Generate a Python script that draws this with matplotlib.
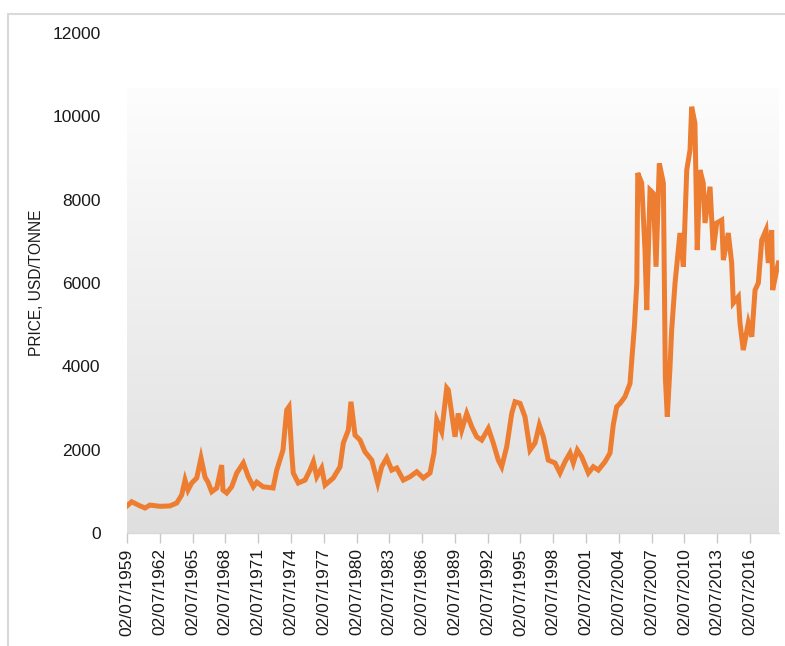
import numpy as np
import matplotlib.pyplot as plt
from matplotlib.colors import LinearSegmentedColormap
from matplotlib.patches import Rectangle

# copper price (decimal year, USD/tonne)
years = [1959.50, 1959.93, 1960.69, 1961.15, 1961.60, 1962.52, 1963.43, 1964.05, 1964.50, 1964.81,
         1965.08, 1965.42, 1965.88, 1966.27, 1966.64, 1966.91, 1967.25, 1967.71, 1968.16, 1968.28,
         1968.62, 1969.08, 1969.54, 1970.14, 1970.60, 1971.06, 1971.37, 1971.94, 1972.86, 1973.20,
         1973.77, 1974.11, 1974.32, 1974.57, 1974.71, 1975.17, 1975.79, 1976.24, 1976.55, 1976.86,
         1977.31, 1977.62, 1978.37, 1978.99, 1979.29, 1979.75, 1979.99, 1980.36, 1980.82, 1981.27,
         1981.89, 1982.44, 1982.80, 1983.26, 1983.72, 1984.18, 1984.78, 1985.39, 1986.01, 1986.61,
         1987.22, 1987.59, 1987.84, 1988.29, 1988.75, 1988.90, 1989.21, 1989.51, 1989.81, 1990.12,
         1990.58, 1991.04, 1991.49, 1991.95, 1992.56, 1993.01, 1993.47, 1993.78, 1994.24, 1994.70,
         1995.00, 1995.46, 1995.91, 1996.37, 1996.83, 1997.22, 1997.59, 1998.04, 1998.66, 1999.11,
         1999.57, 2000.03, 2000.33, 2000.70, 2001.10, 2001.71, 2002.16, 2002.62, 2003.23, 2003.69,
         2003.99, 2004.30, 2004.61, 2005.06, 2005.52, 2005.68, 2005.92, 2006.14, 2006.23, 2006.59,
         2006.89, 2007.05, 2007.35, 2007.65, 2007.90, 2008.20, 2008.57, 2008.75, 2008.93, 2009.18,
         2009.33, 2009.64, 2010.09, 2010.40, 2010.71, 2011.01, 2011.16, 2011.46, 2011.67, 2011.92,
         2012.22, 2012.38, 2012.84, 2013.14, 2013.45, 2013.91, 2014.06, 2014.51, 2014.82, 2014.97,
         2015.43, 2015.58, 2015.88, 2016.34, 2016.66, 2016.96, 2017.26, 2017.57, 2017.96, 2018.17,
         2018.48, 2018.57, 2018.94, 2019.09]
prices = [650, 750, 650, 600, 670, 640, 650, 720, 910, 1270,
          1030, 1200, 1320, 1800, 1340, 1220, 990, 1080, 1630, 1030,
          960, 1110, 1440, 1680, 1350, 1110, 1220, 1110, 1080, 1510,
          1990, 2950, 3030, 1920, 1440, 1200, 1270, 1510, 1710, 1350,
          1560, 1150, 1320, 1590, 2160, 2470, 3150, 2350, 2230, 1950,
          1750, 1200, 1590, 1800, 1510, 1560, 1270, 1350, 1470, 1320,
          1440, 1920, 2710, 2430, 3480, 3430, 2870, 2310, 2870, 2470,
          2870, 2550, 2310, 2230, 2510, 2160, 1750, 1590, 2070, 2870,
          3150, 3110, 2790, 1990, 2160, 2590, 2310, 1750, 1680, 1440,
          1710, 1920, 1680, 1990, 1830, 1440, 1590, 1510, 1710, 1920,
          2600, 3030, 3110, 3270, 3590, 4150, 4950, 6000, 8640, 8400,
          6790, 5350, 8230, 8150, 6390, 8870, 8400, 3750, 2790, 3990,
          4870, 6000, 7200, 6390, 8710, 9190, 10230, 9830, 6790, 8710,
          8400, 7440, 8310, 6790, 7440, 7510, 6550, 7200, 6480, 5520,
          5670, 5040, 4390, 5040, 4710, 5830, 6000, 7030, 7270, 6480,
          7270, 5830, 6310, 6480]
tick_years = list(range(1959, 2017, 3))
y_ticks = [0, 2000, 4000, 6000, 8000, 10000, 12000]

plt.rcParams['font.family'] = ['Liberation Sans', 'DejaVu Sans']

fig = plt.figure(figsize=(7.85, 6.46), dpi=100)
ax = fig.add_axes([127 / 785, 113 / 646, 652 / 785, 500 / 646])

# plot area gradient, white at top to light grey at bottom
grad = LinearSegmentedColormap.from_list('bg', ['#FDFDFD', '#DFDFDF'])
ax.imshow(np.linspace(0, 1, 256).reshape(-1, 1), cmap=grad, aspect='auto',
          extent=[0, 1, 0, 0.89], transform=ax.transAxes, zorder=0)

ax.plot(years, prices, color='#ED7D31', linewidth=3.6, solid_joinstyle='miter', zorder=3)

ax.set_xlim(1959.5, 2019.15)
ax.set_ylim(0, 12000)
ax.set_xticks([y + 0.5 for y in tick_years])
ax.set_xticklabels([f'02/07/{y}' for y in tick_years], rotation=90, fontsize=12.5, color='#1a1a1a')
ax.set_yticks(y_ticks)
ax.set_yticklabels([str(v) for v in y_ticks], fontsize=12.5, color='#1a1a1a')
ax.tick_params(axis='y', length=0, pad=19)
ax.tick_params(axis='x', length=7, width=1, color='#C8C8C8', pad=4)
ax.set_ylabel('PRICE, USD/TONNE', fontsize=11.2, color='#1a1a1a', labelpad=6)

for s in ['top', 'right', 'left']:
    ax.spines[s].set_visible(False)
ax.spines['bottom'].set_color('#D9D9D9')
ax.spines['bottom'].set_linewidth(1)

# outer chart border
fig.patches.append(Rectangle((8 / 785, -0.1), 1.0, 1.1 - 14 / 646, transform=fig.transFigure,
                             fill=False, edgecolor='#D9D9D9', linewidth=1.5))

fig.savefig('out.png', dpi=100)
